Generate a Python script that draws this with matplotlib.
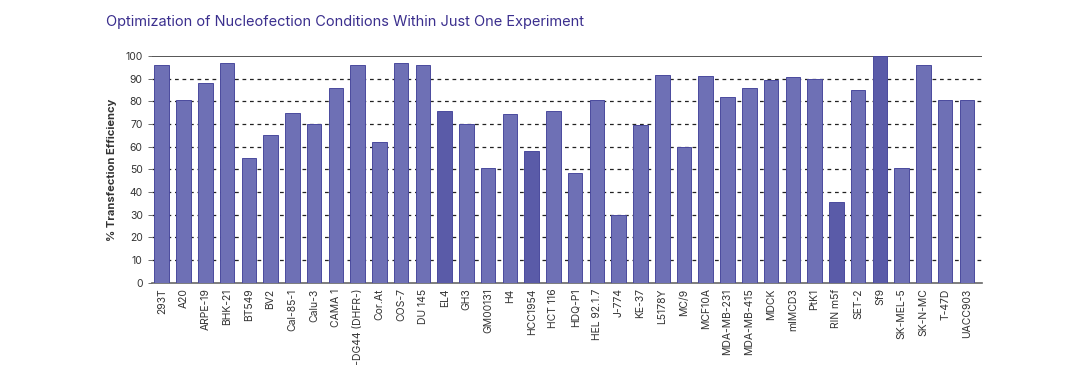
import matplotlib.pyplot as plt

# cell lines and their transfection efficiency (%)
cell_lines = ["293T", "A20", "ARPE-19", "BHK-21", "BT549", "BV2", "Cal-85-1", "Calu-3",
              "CAMA 1", "CHO-DG44 (DHFR-)", "Cor.At", "COS-7", "DU 145", "EL4", "GH3",
              "GM00131", "H4", "HCC1954", "HCT 116", "HDQ-P1", "HEL 92.1.7", "J-774",
              "KE-37", "L5178Y", "MC/9", "MCF10A", "MDA-MB-231", "MDA-MB-415", "MDCK",
              "mIMCD3", "PtK1", "RIN m5f", "SET-2", "Sf9", "SK-MEL-5", "SK-N-MC",
              "T-47D", "UACC903"]
efficiency = [96, 80.5, 88, 97, 55, 65, 75, 70,
              86, 96, 62, 97, 96, 75.5, 70,
              50.5, 74.5, 58, 75.5, 48.5, 80.5, 30,
              69.5, 91.5, 60, 91, 82, 86, 89.5,
              90.5, 90, 35.5, 85, 100, 50.5, 96,
              80.5, 80.5]
darker = ["EL4", "HCC1954", "RIN m5f", "Sf9"]

colors = ["#5a5ba8" if c in darker else "#6e70b5" for c in cell_lines]

plt.rcParams['font.family'] = ['Inter', 'DejaVu Sans']

fig = plt.figure(figsize=(10.84, 3.65), dpi=100)
ax = fig.add_axes([0.140, 0.225, 0.766, 0.622])

x = range(len(cell_lines))
ax.bar(x, efficiency, width=0.67, color=colors, edgecolor="#4a4a9e", linewidth=0.7, zorder=3)

ax.set_ylim(0, 100)
ax.set_xlim(-0.46, len(cell_lines) - 0.3)
ax.set_yticks(range(0, 101, 10))
ax.set_xticks(list(x))
ax.set_xticklabels(cell_lines, rotation=90, fontsize=7.5, color="#333333")
ax.tick_params(axis="y", labelsize=7.5, colors="#333333", length=3, width=0.6, color="#555555")
ax.tick_params(axis="x", length=0, pad=4)

for v in range(10, 100, 10):
    ax.axhline(v, color="#222222", linestyle=(0, (3, 3)), linewidth=0.9, zorder=1)
ax.axhline(100, color="#555555", linewidth=1.4, zorder=2)

for s in ["left", "right", "top"]:
    ax.spines[s].set_visible(False)
ax.spines["bottom"].set_color("#666666")
ax.spines["bottom"].set_linewidth(1.2)

ax.set_ylabel("% Transfection Efficiency", fontsize=8, fontweight="bold", color="#333333", labelpad=6)

fig.text(0.098, 0.94, "Optimization of Nucleofection Conditions Within Just One Experiment",
         fontsize=10.5, color="#3b2f8e", va="center", ha="left")

fig.savefig("out.png", dpi=100)
